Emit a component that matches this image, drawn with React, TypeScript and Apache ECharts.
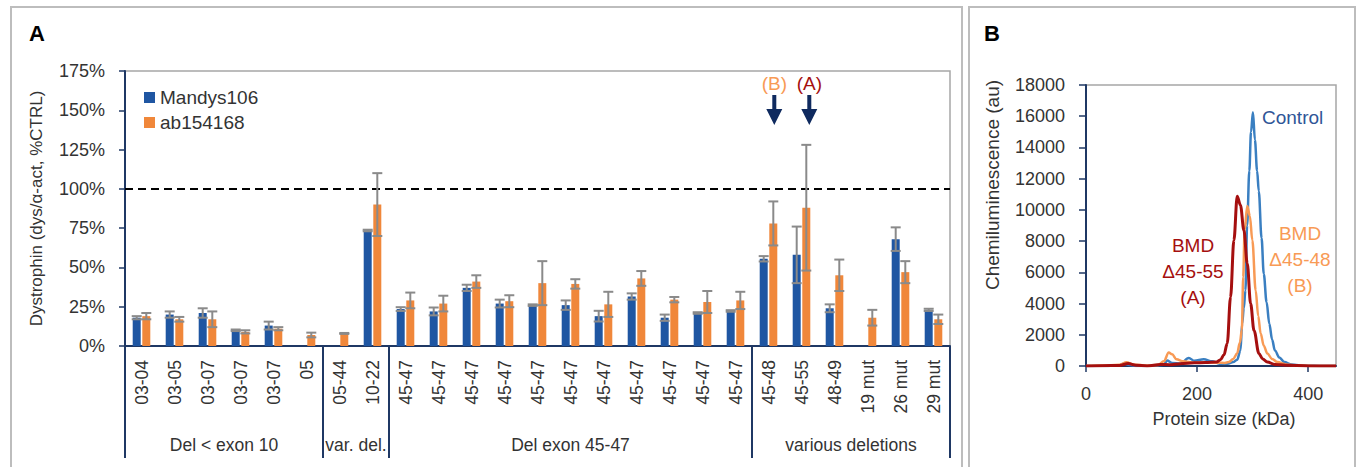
import React, { useEffect, useRef } from 'react';
import * as echarts from 'echarts';

// ---------- Panel A data ----------
const categories = [
  '03-04', '03-05', '03-07', '03-07', '03-07', '05',
  '05-44', '10-22',
  '45-47', '45-47', '45-47', '45-47', '45-47', '45-47', '45-47', '45-47', '45-47', '45-47', '45-47',
  '45-48', '45-55', '48-49', '19 mut', '26 mut', '29 mut',
];
const mandys106 = [18, 20, 21, 10, 13, null, null, 73.5, 23.5, 22, 37, 27, 26, 26, 19, 31.5, 18, 21, 22.3, 55.5, 58, 24, null, 68, 23];
const mandys106Err = [1, 2, 3, 0.5, 2.5, null, null, 0.5, 1.2, 2.5, 2, 2.5, 0.5, 3, 3.4, 2, 2, 0.5, 0.5, 1.7, 18, 2.5, null, 7.5, 0.7];
const ab154168 = [19, 17, 17, 9, 11, 7, 8, 90, 29, 27, 41, 28.5, 40, 39.5, 26.5, 43, 29.5, 28, 29, 78, 88, 45, 18, 47, 17];
const ab154168Err = [2, 1.5, 5, 1, 1, 1.5, 0.3, 20, 5, 5, 4, 3.8, 14, 3, 8, 4.7, 1.7, 7, 5.5, 14, 40, 10, 5, 7, 3];
const groupNames = ['Del < exon 10', 'var. del.', 'Del exon 45-47', 'various deletions'];
const groupSizes = [6, 2, 11, 6];
const yTicksA = [0, 175, 25];

// ---------- Panel B data ----------
const controlSize = [0, 20, 40, 60, 67, 75, 90, 100, 120, 140, 146, 155, 170, 185, 195, 212, 227, 240, 255, 265, 272, 278, 281, 284, 287, 290, 294, 297, 300.5, 304, 308, 311, 316, 320, 325, 330, 335, 340, 348, 357, 370, 386, 400, 420, 450];
const controlVal = [0, 20, 0, 50, 150, 80, 0, 0, 30, 80, 350, 200, 150, 520, 330, 430, 300, 150, 150, 250, 400, 990, 2700, 3700, 4840, 9000, 12500, 15000, 16250, 14500, 12500, 11200, 8200, 5900, 4100, 2700, 1700, 1000, 550, 250, 100, 40, 20, 0, 0];
const bSize = [0, 30, 60, 73, 85, 110, 130, 140, 149, 155, 163, 175, 195, 215, 237, 250, 257, 265, 272, 277, 280.5, 283, 285.5, 290.3, 295, 299.4, 305.4, 310, 314.4, 320, 326.4, 335, 344.5, 360, 380, 420, 450];
const bVal = [0, 30, 80, 240, 100, 30, 60, 300, 860, 750, 430, 300, 210, 230, 210, 200, 250, 450, 800, 1500, 2300, 5700, 8700, 10250, 9600, 8050, 4840, 3200, 2080, 1300, 800, 450, 250, 100, 30, 0, 0];
const aSize = [0, 30, 60, 76, 90, 110, 134, 150, 170, 195, 215, 235, 242, 248.2, 254.2, 260.2, 266.2, 272.2, 278, 284.2, 290.3, 296.3, 302.4, 311.3, 318, 326.4, 340, 360, 400, 450];
const aVal = [0, 20, 30, 160, 50, 0, 100, 80, 150, 210, 220, 250, 400, 700, 1440, 4410, 8050, 10870, 10300, 8700, 6560, 4000, 2280, 800, 450, 250, 100, 50, 0, 0];

// ---------- Styles / layout ----------
const W = 1359;
const H = 467;
const FONT = 'Liberation Sans, Arial, sans-serif';
const BLUE = '#1f56a2';
const ORANGE = '#f0873a';
const NAVY = '#1f3864';
const ERR = '#8a8a8a';
const TXT = '#333333';
const C_CONTROL = '#3a7fc1';
const C_B = '#f89a55';
const C_A = '#a50f0f';

const gA = { left: 125, top: 71, width: 825, height: 275 };
const gB = { left: 1086, top: 85, width: 250, height: 281 };
const BAR_W = 8;
const BAR_GAP = 0.2;
const barOffset = (BAR_W + BAR_W * BAR_GAP) / 2;

function errSeries(vals: (number | null)[], errs: (number | null)[], offset: number) {
  const data: number[][] = [];
  vals.forEach((v, i) => {
    if (v != null && errs[i] != null) data.push([i, v, errs[i] as number]);
  });
  return {
    type: 'custom',
    xAxisIndex: 0,
    yAxisIndex: 0,
    silent: true,
    z: 5,
    encode: { x: 0, y: 1 },
    data,
    renderItem: (params: any, api: any) => {
      const idx = api.value(0);
      const v = api.value(1);
      const e = api.value(2);
      const hi = api.coord([idx, v + e]);
      const lo = api.coord([idx, v - e]);
      const x = hi[0] + offset;
      const cap = 5;
      const st = { stroke: ERR, lineWidth: 2 };
      return {
        type: 'group',
        children: [
          { type: 'line', shape: { x1: x, y1: hi[1], x2: x, y2: lo[1] }, style: st },
          { type: 'line', shape: { x1: x - cap, y1: hi[1], x2: x + cap, y2: hi[1] }, style: st },
          { type: 'line', shape: { x1: x - cap, y1: lo[1], x2: x + cap, y2: lo[1] }, style: st },
        ],
      };
    },
  };
}

function buildGraphics() {
  const g: any[] = [];
  // panel frames
  g.push({ type: 'rect', shape: { x: 11, y: 7, width: 951, height: 500 }, style: { fill: 'none', stroke: '#bdbdbd', lineWidth: 2 } });
  g.push({ type: 'rect', shape: { x: 969, y: 7, width: 386, height: 500 }, style: { fill: 'none', stroke: '#bdbdbd', lineWidth: 2 } });
  // panel letters
  g.push({ type: 'text', x: 37, y: 33, style: { text: 'A', font: `bold 22px ${FONT}`, fill: '#000', align: 'center', verticalAlign: 'middle' } });
  g.push({ type: 'text', x: 992, y: 33, style: { text: 'B', font: `bold 22px ${FONT}`, fill: '#000', align: 'center', verticalAlign: 'middle' } });

  // group separators and labels under panel A
  const catW = gA.width / categories.length;
  const axisY = gA.top + gA.height;
  let start = 0;
  const bounds = [0];
  groupSizes.forEach((s) => { start += s; bounds.push(start); });
  bounds.forEach((b) => {
    const x = gA.left + b * catW;
    g.push({ type: 'line', shape: { x1: x, y1: axisY, x2: x, y2: 458 }, style: { stroke: NAVY, lineWidth: 2 } });
  });
  groupNames.forEach((name, i) => {
    const cx = gA.left + ((bounds[i] + bounds[i + 1]) / 2) * catW;
    g.push({ type: 'text', x: cx, y: 445, style: { text: name, font: `17.5px ${FONT}`, fill: TXT, align: 'center', verticalAlign: 'middle' } });
  });

  // arrows with (B) / (A)
  const marks = [
    { idx: categories.indexOf('45-48'), label: '(B)', color: C_B, dx: 1 },
    { idx: categories.indexOf('45-55'), label: '(A)', color: C_A, dx: 3 },
  ];
  marks.forEach((m) => {
    const x = gA.left + (m.idx + 0.5) * catW + barOffset + m.dx;
    g.push({ type: 'text', x, y: 83, style: { text: m.label, font: `19px ${FONT}`, fill: m.color, align: 'center', verticalAlign: 'middle' } });
    g.push({
      type: 'polygon',
      shape: { points: [[x - 2, 95], [x + 2, 95], [x + 2, 109], [x + 8, 109], [x, 125], [x - 8, 109], [x - 2, 109]] },
      style: { fill: '#0f2a5f' },
    });
  });

  // panel B annotations
  g.push({ type: 'text', x: 1262, y: 117, style: { text: 'Control', font: `19px ${FONT}`, fill: '#2f5597', align: 'left', verticalAlign: 'middle' } });
  ['BMD', 'Δ45-55', '(A)'].forEach((t, i) => {
    g.push({ type: 'text', x: 1193, y: 245 + i * 26, style: { text: t, font: `19px ${FONT}`, fill: C_A, align: 'center', verticalAlign: 'middle' } });
  });
  ['BMD', 'Δ45-48', '(B)'].forEach((t, i) => {
    g.push({ type: 'text', x: 1300, y: 233 + i * 26, style: { text: t, font: `19px ${FONT}`, fill: C_B, align: 'center', verticalAlign: 'middle' } });
  });
  // panel B y-axis name
  g.push({ type: 'text', x: 992, y: 185, rotation: Math.PI / 2, style: { text: 'Chemiluminescence (au)', font: `19px ${FONT}`, fill: TXT, align: 'center', verticalAlign: 'middle' } });
  return g;
}

function buildOption() {
  const pairs = (xs: number[], ys: number[]) => xs.map((x, i) => [x, ys[i]]);
  return {
    animation: false,
    textStyle: { fontFamily: FONT },
    grid: [
      { ...gA, show: true, borderColor: '#a6a6a6', borderWidth: 1.5, backgroundColor: 'transparent' },
      { ...gB, show: true, borderColor: '#a6a6a6', borderWidth: 1.5, backgroundColor: 'transparent' },
    ],
    legend: {
      data: ['Mandys106', 'ab154168'],
      orient: 'vertical',
      left: 139,
      top: 83,
      itemWidth: 11,
      itemHeight: 11,
      itemGap: 6,
      icon: 'rect',
      textStyle: { fontSize: 19, color: TXT, fontFamily: FONT },
    },
    xAxis: [
      {
        type: 'category',
        gridIndex: 0,
        data: categories,
        axisLine: { lineStyle: { color: NAVY, width: 2 } },
        axisTick: { show: false },
        axisLabel: { rotate: 90, interval: 0, fontSize: 17.5, color: TXT, margin: 14 },
      },
      {
        type: 'value',
        gridIndex: 1,
        min: 0,
        max: 450,
        interval: 200,
        splitLine: { show: false },
        axisLine: { lineStyle: { color: NAVY, width: 2 } },
        axisTick: { show: true, length: 6, lineStyle: { color: NAVY, width: 1.5 } },
        axisLabel: { fontSize: 18, color: TXT, margin: 19, showMaxLabel: false, formatter: (v: number) => String(v) },
        name: 'Protein size (kDa)',
        nameLocation: 'middle',
        nameGap: 44,
        nameTextStyle: { fontSize: 18, color: TXT, padding: [0, 0, 0, 26] },
      },
    ],
    yAxis: [
      {
        type: 'value',
        gridIndex: 0,
        min: yTicksA[0],
        max: yTicksA[1],
        interval: yTicksA[2],
        splitLine: { show: false },
        axisLine: { show: true, lineStyle: { color: NAVY, width: 2 } },
        axisTick: { show: true, length: 6, lineStyle: { color: NAVY, width: 1.5 } },
        axisLabel: { fontSize: 18, color: TXT, margin: 20, formatter: '{value}%' },
        name: 'Dystrophin (dys/α-act, %CTRL)',
        nameLocation: 'middle',
        nameGap: 80,
        nameTextStyle: { fontSize: 17, color: TXT },
      },
      {
        type: 'value',
        gridIndex: 1,
        min: 0,
        max: 18000,
        interval: 2000,
        splitLine: { show: false },
        axisLine: { show: true, lineStyle: { color: NAVY, width: 2 } },
        axisTick: { show: true, length: 7, lineStyle: { color: NAVY, width: 1.5 } },
        axisLabel: { fontSize: 18, color: TXT, margin: 21, formatter: (v: number) => String(v) },
      },
    ],
    series: [
      {
        name: 'Mandys106',
        type: 'bar',
        xAxisIndex: 0,
        yAxisIndex: 0,
        data: mandys106.map((v) => (v == null ? '-' : v)),
        barWidth: BAR_W,
        barGap: `${BAR_GAP * 100}%`,
        itemStyle: { color: BLUE },
        markLine: {
          silent: true,
          symbol: 'none',
          label: { show: false },
          lineStyle: { color: '#000', type: [8, 5], width: 2 },
          data: [{ yAxis: 100 }],
        },
      },
      {
        name: 'ab154168',
        type: 'bar',
        xAxisIndex: 0,
        yAxisIndex: 0,
        data: ab154168.map((v) => (v == null ? '-' : v)),
        barWidth: BAR_W,
        itemStyle: { color: ORANGE },
      },
      errSeries(mandys106, mandys106Err, -barOffset),
      errSeries(ab154168, ab154168Err, barOffset),
      {
        name: 'Control',
        type: 'line',
        xAxisIndex: 1,
        yAxisIndex: 1,
        data: pairs(controlSize, controlVal),
        showSymbol: false,
        smooth: 0.35,
        smoothMonotone: 'x',
        lineStyle: { color: C_CONTROL, width: 2.5 },
        itemStyle: { color: C_CONTROL },
      },
      {
        name: 'BMD Δ45-48',
        type: 'line',
        xAxisIndex: 1,
        yAxisIndex: 1,
        data: pairs(bSize, bVal),
        showSymbol: false,
        smooth: 0.35,
        smoothMonotone: 'x',
        lineStyle: { color: C_B, width: 2.5 },
        itemStyle: { color: C_B },
      },
      {
        name: 'BMD Δ45-55',
        type: 'line',
        xAxisIndex: 1,
        yAxisIndex: 1,
        data: pairs(aSize, aVal),
        showSymbol: false,
        smooth: 0.35,
        smoothMonotone: 'x',
        lineStyle: { color: C_A, width: 3 },
        itemStyle: { color: C_A },
      },
    ],
    graphic: buildGraphics(),
  };
}

export default function App() {
  const ref = useRef<HTMLDivElement>(null);
  useEffect(() => {
    const chart = echarts.init(ref.current as HTMLDivElement, null, { renderer: 'svg', width: W, height: H });
    chart.setOption(buildOption() as any);
    return () => chart.dispose();
  }, []);
  return <div ref={ref} style={{ position: 'fixed', left: 0, top: 0, width: W, height: H, background: '#fff' }} />;
}
